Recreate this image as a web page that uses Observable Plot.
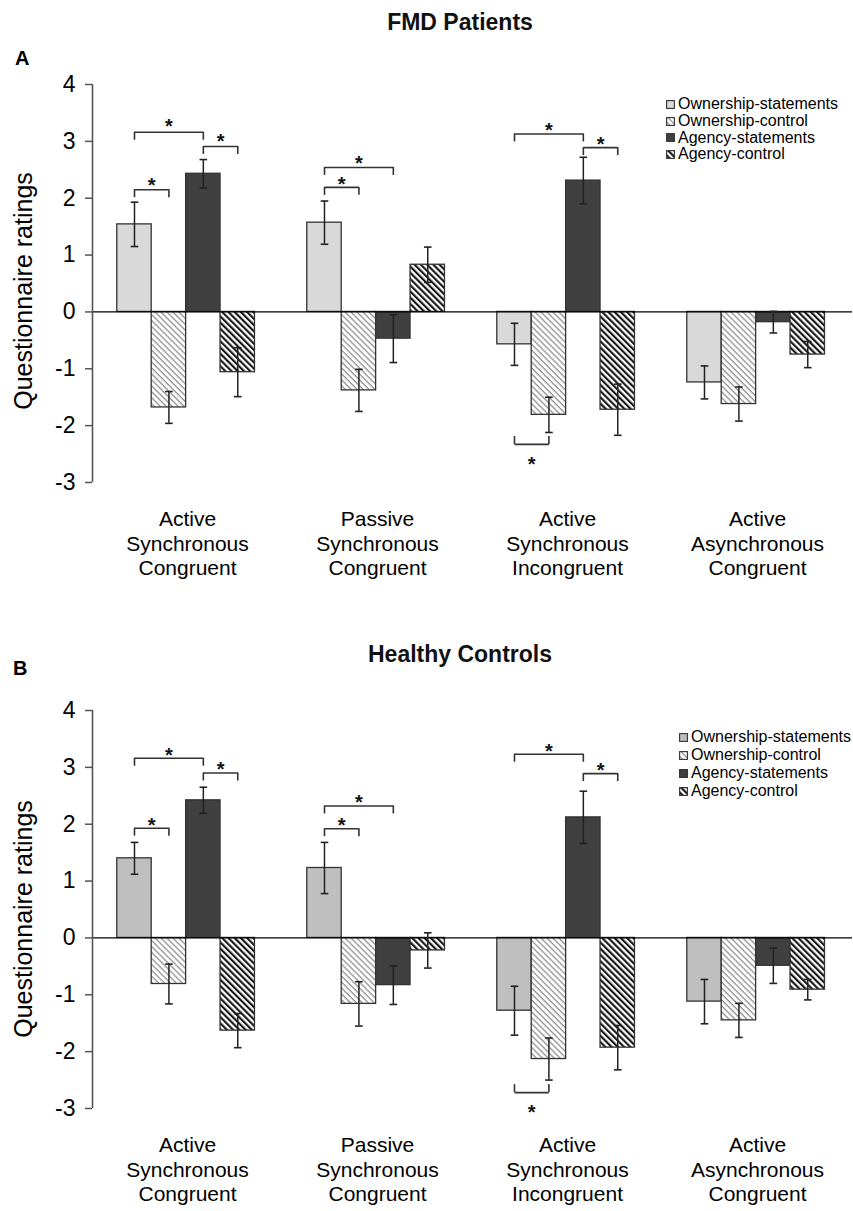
<!DOCTYPE html>
<html>
<head>
<meta charset="utf-8">
<script src="https://cdn.jsdelivr.net/npm/d3@7"></script>
<script src="https://cdn.jsdelivr.net/npm/@observablehq/plot@0.6"></script>
<style>
  html, body { margin: 0; padding: 0; background: #fff; }
  body { font-family: "Liberation Sans", Arial, sans-serif; color: #000; }
  #chart { position: relative; width: 853px; height: 1211px; overflow: hidden; }
  .panel { position: absolute; left: 0; width: 853px; height: 626px; }
  .panel svg.plot { position: absolute; left: 0; top: 0; }
  .title { position: absolute; width: 300px; text-align: center; font-size: 23px; font-weight: bold; line-height: 1; white-space: nowrap; color: #111; }
  .letter { position: absolute; font-size: 20px; font-weight: bold; line-height: 1; }
  .ylab { position: absolute; font-size: 25px; line-height: 1; white-space: nowrap; transform: translate(-50%, -50%) rotate(-90deg); }
  .legend { position: absolute; font-size: 16px; }
  .legend .row { display: flex; align-items: center; white-space: nowrap; }
  .legend svg { margin-right: 3px; flex: none; }
</style>
</head>
<body>
<svg width="0" height="0" style="position:absolute">
  <defs>
    <pattern id="hatchLight" patternUnits="userSpaceOnUse" width="4.2" height="4.2" patternTransform="rotate(-45)">
      <rect width="4.2" height="4.2" fill="#fff"></rect>
      <line x1="1" y1="0" x2="1" y2="4.2" stroke="#7d7d7d" stroke-width="1.1"></line>
    </pattern>
    <pattern id="hatchDark" patternUnits="userSpaceOnUse" width="4.4" height="4.4" patternTransform="rotate(-45)">
      <rect width="4.4" height="4.4" fill="#fff"></rect>
      <line x1="1.1" y1="0" x2="1.1" y2="4.4" stroke="#111" stroke-width="2.1"></line>
    </pattern>
  </defs>
</svg>
<div id="chart"></div>
<script>
// ---------------- data ----------------
const categories = ["Active Synchronous Congruent", "Passive Synchronous Congruent", "Active Synchronous Incongruent", "Active Asynchronous Congruent"];
const categoryLabels = ["Active\nSynchronous\nCongruent", "Passive\nSynchronous\nCongruent", "Active\nSynchronous\nIncongruent", "Active\nAsynchronous\nCongruent"];
const series = ["Ownership-statements", "Ownership-control", "Agency-statements", "Agency-control"];
const yTicks = [-3, -2, -1, 0, 1, 2, 3, 4];
const panelTitles = ["FMD Patients", "Healthy Controls"];
const panelLetters = ["A", "B"];
const yLabel = "Questionnaire ratings";

// Panel A: FMD patients (mean ratings per category, one array per series)
const fmdOwnershipStatements = [1.54, 1.57, -0.57, -1.24];
const fmdOwnershipControl    = [-1.68, -1.38, -1.81, -1.62];
const fmdAgencyStatements    = [2.43, -0.47, 2.31, -0.18];
const fmdAgencyControl       = [-1.06, 0.83, -1.72, -0.75];
// error bars (SEM)
const fmdOwnershipStatementsErr = [0.39, 0.38, 0.37, 0.29];
const fmdOwnershipControlErr    = [0.28, 0.37, 0.31, 0.30];
const fmdAgencyStatementsErr    = [0.25, 0.42, 0.41, 0.19];
const fmdAgencyControlErr       = [0.43, 0.31, 0.45, 0.23];

// Panel B: Healthy controls
const hcOwnershipStatements = [1.40, 1.23, -1.28, -1.12];
const hcOwnershipControl    = [-0.81, -1.16, -2.13, -1.45];
const hcAgencyStatements    = [2.42, -0.83, 2.12, -0.49];
const hcAgencyControl       = [-1.63, -0.22, -1.93, -0.91];
const hcOwnershipStatementsErr = [0.28, 0.45, 0.43, 0.39];
const hcOwnershipControlErr    = [0.35, 0.39, 0.37, 0.30];
const hcAgencyStatementsErr    = [0.23, 0.34, 0.46, 0.31];
const hcAgencyControlErr       = [0.30, 0.31, 0.39, 0.18];

// significance brackets: category, from-series, to-series, bracket level, star level
const fmdBrackets = [
  {category: categories[0], from: series[0], to: series[2], level: 3.16, star: 3.37},
  {category: categories[0], from: series[2], to: series[3], level: 2.91, star: 3.10},
  {category: categories[0], from: series[0], to: series[1], level: 2.15, star: 2.33},
  {category: categories[1], from: series[0], to: series[1], level: 2.19, star: 2.35},
  {category: categories[1], from: series[0], to: series[2], level: 2.54, star: 2.72},
  {category: categories[2], from: series[0], to: series[2], level: 3.13, star: 3.30},
  {category: categories[2], from: series[2], to: series[3], level: 2.89, star: 3.05},
  {category: categories[2], from: series[0], to: series[1], level: -2.33, star: -2.58}
];
const hcBrackets = [
  {category: categories[0], from: series[0], to: series[2], level: 3.16, star: 3.32},
  {category: categories[0], from: series[2], to: series[3], level: 2.90, star: 3.06},
  {category: categories[0], from: series[0], to: series[1], level: 1.93, star: 2.08},
  {category: categories[1], from: series[0], to: series[1], level: 1.92, star: 2.08},
  {category: categories[1], from: series[0], to: series[2], level: 2.32, star: 2.48},
  {category: categories[2], from: series[0], to: series[2], level: 3.23, star: 3.39},
  {category: categories[2], from: series[2], to: series[3], level: 2.89, star: 3.05},
  {category: categories[2], from: series[0], to: series[1], level: -2.72, star: -2.97}
];

// ---------------- styles ----------------
const fmdFills = ["#d9d9d9", "url(#hatchLight)", "#404040", "url(#hatchDark)"];
const hcFills  = ["#bfbfbf", "url(#hatchLight)", "#404040", "url(#hatchDark)"];
const xDomain = [-0.72, 4.8];   // padding around the four bars of each group
const yDomain = [-3, 4];

function buildRows(values, errs) {
  return categories.flatMap((c, i) => series.map((s, j) => ({
    category: c, series: s, idx: j, value: values[j][i], err: errs[j][i]
  })));
}

const capSymbol = {
  draw(context, size) {
    const r = Math.sqrt(size / Math.PI);
    context.moveTo(-r, 0);
    context.lineTo(r, 0);
  }
};

function panelPlot(rows, brackets, fills) {
  const si = s => series.indexOf(s);
  const caps = rows.flatMap(d => [{...d, cap: d.value + d.err}, {...d, cap: d.value - d.err}]);
  const ends = brackets.flatMap(b => [b.from, b.to].map(s => ({...b, end: s})));
  const plot = Plot.plot({
    width: 853,
    height: 626,
    marginLeft: 90,
    marginRight: 0,
    marginTop: 84,
    marginBottom: 144,
    style: {fontFamily: "'Liberation Sans', Arial, sans-serif", background: "transparent", color: "#000", overflow: "visible"},
    fx: {domain: categories, padding: 0, axis: null, label: null},
    x: {domain: xDomain, axis: null},
    y: {domain: yDomain, axis: null},
    color: {type: "identity"},
    marks: [
      Plot.rectY(rows, {
        fx: "category",
        x1: d => d.idx, x2: d => d.idx + 1,
        y1: 0, y2: "value",
        fill: d => fills[d.idx],
        stroke: "#333", strokeWidth: 1.3
      }),
      Plot.ruleY([0], {stroke: "#000", strokeWidth: 1.3}),
      Plot.ruleX(rows, {
        fx: "category",
        x: d => d.idx + 0.5,
        y1: d => d.value - d.err, y2: d => d.value + d.err,
        stroke: "#222", strokeWidth: 1.5
      }),
      Plot.dot(caps, {
        fx: "category",
        x: d => d.idx + 0.5, y: "cap",
        symbol: capSymbol, r: 3.8, fill: "none",
        stroke: "#222", strokeWidth: 1.6
      }),
      Plot.link(brackets, {
        fx: "category",
        x1: d => si(d.from) + 0.5, x2: d => si(d.to) + 0.5,
        y1: "level", y2: "level",
        stroke: "#333", strokeWidth: 1.6
      }),
      Plot.ruleX(ends, {
        fx: "category",
        x: d => si(d.end) + 0.5,
        y1: "level", y2: d => d.level + (d.star > d.level ? -0.14 : 0.14),
        stroke: "#333", strokeWidth: 1.6
      }),
      Plot.text(brackets, {
        fx: "category",
        x: d => (si(d.from) + si(d.to)) / 2 + 0.5, y: "star",
        text: () => "*", fontSize: 20, fontWeight: "bold", lineAnchor: "middle", dy: 6, fill: "#111"
      }),
      Plot.text(categories, {
        fx: d => d,
        text: (d, i) => categoryLabels[i],
        frameAnchor: "bottom", lineAnchor: "top", dy: 26,
        fontSize: 21, lineHeight: 1.17, fill: "#000"
      }),
      // y-axis line along the left edge of the first group
      Plot.ruleX([categories[0]], {
        fx: d => d, x: () => xDomain[0], y1: () => yDomain[0], y2: () => yDomain[1],
        stroke: "#555", strokeWidth: 1.6
      }),
      Plot.axisY({
        ticks: yTicks, tickFormat: d => String(d),
        tickSize: 7, tickPadding: 10, fontSize: 23,
        label: null, stroke: "#555", strokeWidth: 1.5
      })
    ]
  });
  plot.classList.add("plot");
  return plot;
}

const panels = [
  {rows: buildRows([fmdOwnershipStatements, fmdOwnershipControl, fmdAgencyStatements, fmdAgencyControl],
                   [fmdOwnershipStatementsErr, fmdOwnershipControlErr, fmdAgencyStatementsErr, fmdAgencyControlErr]),
   brackets: fmdBrackets, fills: fmdFills,
   titleTop: 11, letterTop: 48, letterLeft: 15, legendLeft: 666, legendTop: 96, legendLH: 16.7, ylabY: 291},
  {rows: buildRows([hcOwnershipStatements, hcOwnershipControl, hcAgencyStatements, hcAgencyControl],
                   [hcOwnershipStatementsErr, hcOwnershipControlErr, hcAgencyStatementsErr, hcAgencyControlErr]),
   brackets: hcBrackets, fills: hcFills,
   titleTop: 17, letterTop: 32, letterLeft: 13, legendLeft: 679, legendTop: 102, legendLH: 18, ylabY: 293}
];

const chart = document.getElementById("chart");
panels.forEach((p, k) => {
  const div = document.createElement("div");
  div.className = "panel";
  div.style.top = (k * 626) + "px";
  div.appendChild(panelPlot(p.rows, p.brackets, p.fills));

  const title = document.createElement("div");
  title.className = "title";
  title.textContent = panelTitles[k];
  title.style.left = (460 - 150) + "px";
  title.style.top = p.titleTop + "px";
  div.appendChild(title);

  const letter = document.createElement("div");
  letter.className = "letter";
  letter.textContent = panelLetters[k];
  letter.style.left = p.letterLeft + "px";
  letter.style.top = p.letterTop + "px";
  div.appendChild(letter);

  const ylab = document.createElement("div");
  ylab.className = "ylab";
  ylab.textContent = yLabel;
  ylab.style.left = "23px";
  ylab.style.top = p.ylabY + "px";
  div.appendChild(ylab);

  const legend = document.createElement("div");
  legend.className = "legend";
  legend.style.left = p.legendLeft + "px";
  legend.style.top = p.legendTop + "px";
  series.forEach((s, j) => {
    const row = document.createElement("div");
    row.className = "row";
    row.style.height = p.legendLH + "px";
    row.innerHTML = `<svg width="9" height="9"><rect x="0.6" y="0.6" width="7.8" height="7.8" fill="${p.fills[j]}" stroke="#333" stroke-width="1.1"></rect></svg><span>${s}</span>`;
    legend.appendChild(row);
  });
  div.appendChild(legend);

  chart.appendChild(div);
});
</script>
</body>
</html>
